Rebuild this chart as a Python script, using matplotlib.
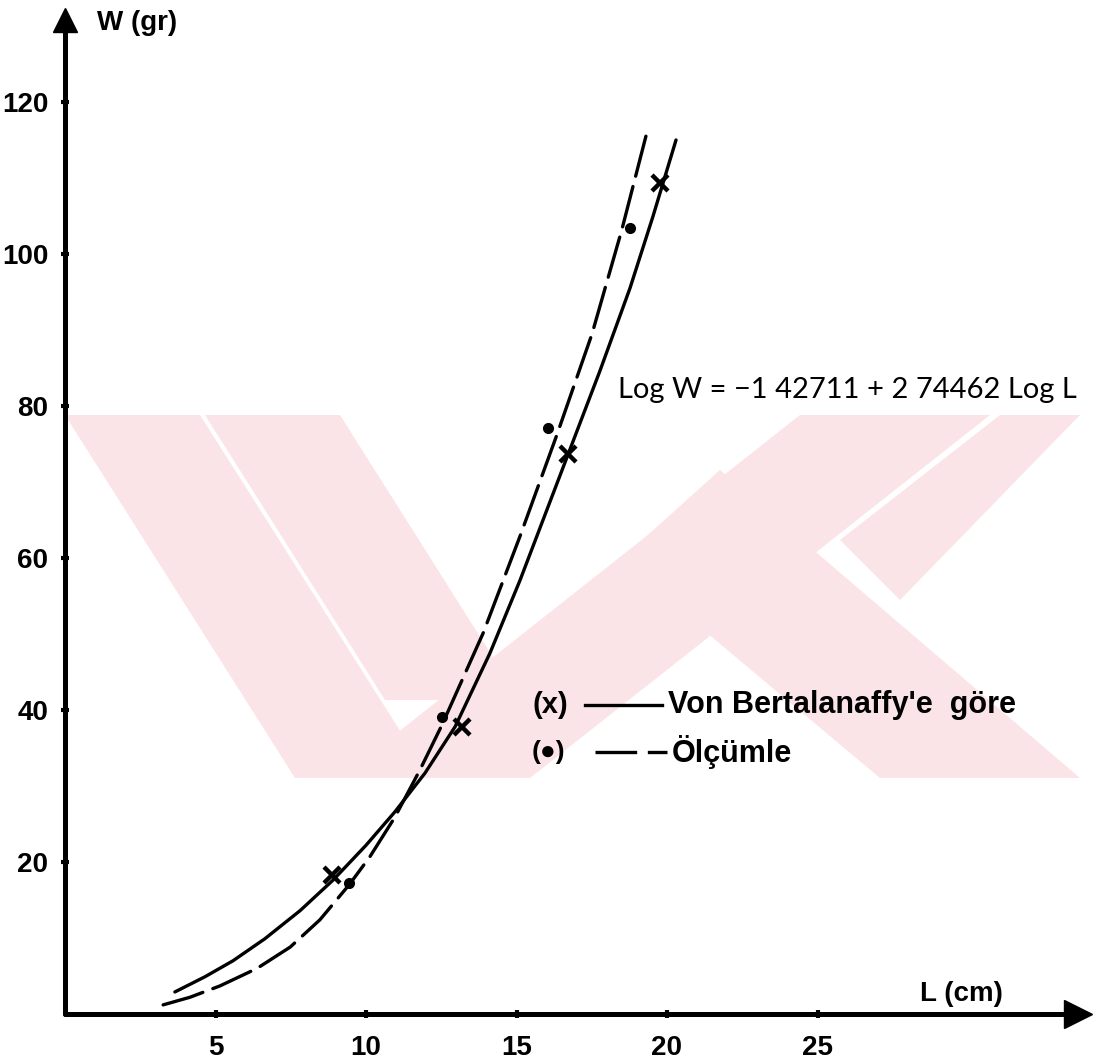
import matplotlib
matplotlib.use("Agg")
import matplotlib.pyplot as plt
from matplotlib.patches import Polygon
from matplotlib.lines import Line2D

W_PX, H_PX = 1102, 1064

# ---------------- data ----------------
x_tick_values = [5, 10, 15, 20, 25]
y_tick_values = [20, 40, 60, 80, 100, 120]

# Von Bertalanffy (x) points and curve
bert_L = [8.87, 13.19, 16.71, 19.77]
bert_W = [18.3, 37.8, 73.7, 109.3]
bert_curve_L = [3.65, 4.65, 5.58, 6.64, 7.81, 8.90, 10.0, 10.96, 11.96,
                12.96, 14.12, 15.12, 16.71, 17.77, 18.77, 19.53, 20.30]
bert_curve_W = [2.9, 4.9, 7.0, 9.9, 13.6, 17.6, 22.2, 26.6, 31.7,
                37.8, 47.5, 57.1, 73.6, 84.6, 95.5, 104.9, 115.0]

# Measured (•) points and curve
olc_L = [9.44, 12.52, 16.05, 18.77]
olc_W = [17.2, 39.1, 77.1, 103.4]
olc_curve_L = [3.26, 4.15, 5.15, 6.38, 7.48, 8.47, 9.44, 10.13, 10.96,
               11.79, 12.52, 13.89, 15.12, 16.35, 17.51, 18.50, 19.30]
olc_curve_W = [1.2, 2.2, 3.7, 6.0, 8.8, 12.4, 17.0, 20.7, 25.9,
               32.1, 38.0, 50.1, 62.9, 76.3, 89.5, 103.2, 115.5]

y_label = "W (gr)"
x_label = "L (cm)"
equation = "Log W = −1 42711 + 2 74462 Log L"
legend_solid = "Von Bertalanaffy'e  göre"
legend_dashed = "Ölçümle"

# ---------------- figure ----------------
BOLD = ["Liberation Sans Narrow", "Liberation Sans", "DejaVu Sans"]
fig = plt.figure(figsize=(W_PX / 100, H_PX / 100), dpi=100)
fig.patch.set_facecolor("white")
ax = fig.add_axes([0, 0, 1, 1])
ax.set_facecolor("none")

PX_PER_L = 30.1
PX_PER_W = 7.6
X0, Y0 = 65, 1014
ax.set_xlim(-X0 / PX_PER_L, (W_PX - X0) / PX_PER_L)
ax.set_ylim((Y0 - H_PX) / PX_PER_W, Y0 / PX_PER_W)


def fpx(x, y):
    return (x / W_PX, 1 - y / H_PX)


# watermark (pale pink stripes)
pink = "#fbe4e7"
wm = [
    [(65, 415), (200, 415), (430, 778), (295, 778)],
    [(205, 415), (340, 415), (520, 700), (385, 700)],
    [(800, 415), (990, 415), (530, 778), (340, 778)],
    [(620, 560), (720, 470), (1080, 778), (880, 778)],
    [(1000, 415), (1080, 415), (900, 600), (840, 540)],
]
for poly in wm:
    ax.add_patch(Polygon([fpx(*p) for p in poly], closed=True,
                         transform=fig.transFigure, facecolor=pink,
                         edgecolor="none", zorder=0))

# axes
for s in ["top", "right"]:
    ax.spines[s].set_visible(False)
for s in ["left", "bottom"]:
    ax.spines[s].set_position(("data", 0))
    ax.spines[s].set_linewidth(3.6)
    ax.spines[s].set_capstyle("round")
ax.spines["bottom"].set_bounds(0, (1070 - X0) / PX_PER_L)
ax.spines["left"].set_bounds(0, (Y0 - 25) / PX_PER_W)
ax.plot([(1078 - X0) / PX_PER_L], [0], marker=">", markersize=20,
        color="black", clip_on=False, zorder=5)
ax.plot([0], [(Y0 - 20) / PX_PER_W], marker="^", markersize=17,
        color="black", clip_on=False, zorder=5)

ax.set_xticks(x_tick_values)
ax.set_yticks(y_tick_values)
ax.set_xticklabels([str(v) for v in x_tick_values])
ax.set_yticklabels([str(v) for v in y_tick_values])
ax.tick_params(axis="both", direction="inout", length=6, width=3,
               labelsize=20)
ax.tick_params(axis="x", pad=12)
ax.tick_params(axis="y", pad=9)
for lab in ax.get_xticklabels() + ax.get_yticklabels():
    lab.set_fontfamily(BOLD)
    lab.set_fontweight("bold")

# curves
ax.plot(bert_curve_L, bert_curve_W, color="black", lw=2.4,
        solid_capstyle="round", solid_joinstyle="round", zorder=3)
ax.plot(olc_curve_L, olc_curve_W, color="black", lw=2.4,
        linestyle=(0, (12.5, 3.2)), dash_capstyle="round",
        dash_joinstyle="round", zorder=3)
ax.plot(bert_L, bert_W, linestyle="none", marker="x", markersize=12,
        mew=3.2, color="black", zorder=4)
ax.plot(olc_L, olc_W, linestyle="none", marker="o", markersize=7,
        color="black", zorder=4)

# axis titles
fig.text(*fpx(97, 23), y_label, ha="left", va="center", fontsize=20,
         fontweight="bold", family=BOLD)
fig.text(*fpx(920, 994), x_label, ha="left", va="center", fontsize=20,
         fontweight="bold", family=BOLD)

# equation
fig.text(*fpx(618, 390), equation, ha="left", va="center", fontsize=21,
         fontweight="normal", family=["Lato", "DejaVu Sans"])

# legend (hand-drawn style)
fig.text(*fpx(533, 705), "(x)", ha="left", va="center", fontsize=21,
         fontweight="bold", family=BOLD)
fig.add_artist(Line2D([585 / W_PX, 662 / W_PX], [1 - 705 / H_PX] * 2,
                      color="black", lw=2.4, transform=fig.transFigure))
fig.text(*fpx(668, 705), legend_solid, ha="left", va="center", fontsize=22,
         fontweight="bold", family=BOLD)

fig.text(*fpx(532, 752), "(●)", ha="left", va="center", fontsize=19,
         fontweight="bold", family=BOLD)
fig.add_artist(Line2D([595 / W_PX, 667 / W_PX], [1 - 752 / H_PX] * 2,
                      color="black", lw=2.4, linestyle=(0, (12.5, 3.2)),
                      transform=fig.transFigure))
fig.text(*fpx(672, 752), legend_dashed, ha="left", va="center", fontsize=22,
         fontweight="bold", family=BOLD)

fig.savefig("out.png", dpi=100, facecolor="white")
